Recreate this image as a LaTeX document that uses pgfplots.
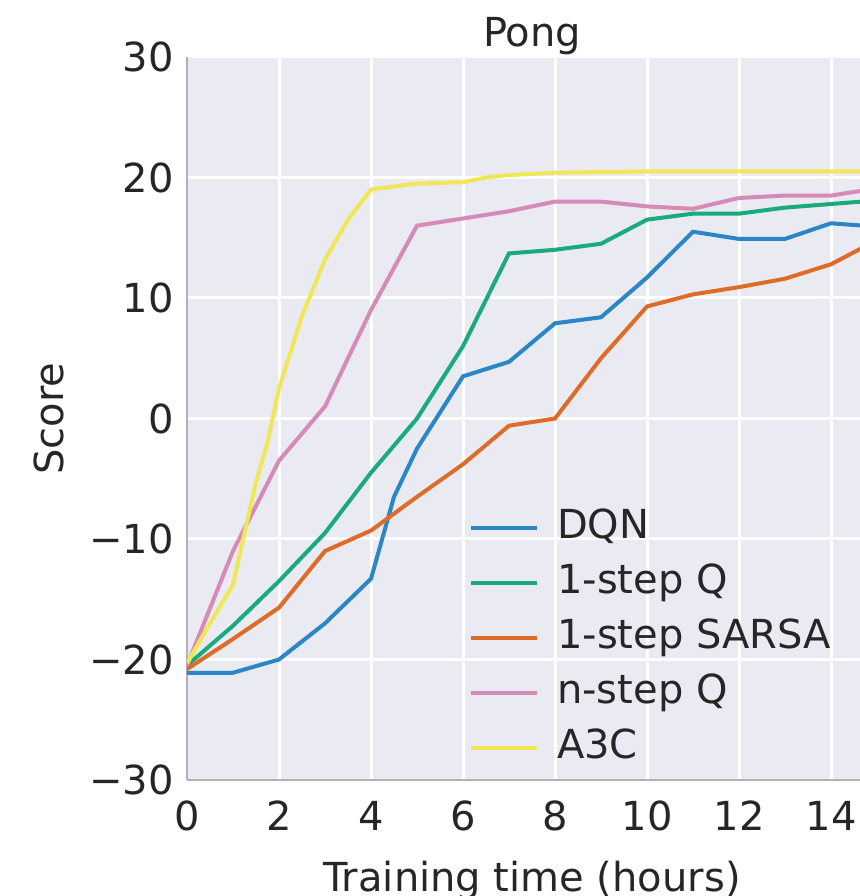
\documentclass[border=0pt]{standalone}
\usepackage{fontspec}
\setmainfont{DejaVu Sans}
\usepackage{pgfplots}
\pgfplotsset{compat=1.18}
\definecolor{bgcol}{HTML}{EAEAF2}
\definecolor{cbblue}{HTML}{2A86C4}
\definecolor{cbgreen}{HTML}{1AAA80}
\definecolor{cborange}{HTML}{DE6C28}
\definecolor{cbpink}{HTML}{D58AB7}
\definecolor{cbyellow}{HTML}{F1E656}
\definecolor{txt}{HTML}{262626}

\begin{document}
\begin{tikzpicture}[font=\fontsize{12}{14}\selectfont, text=txt]
\begin{axis}[
  name=ax,
  scale only axis,
  width=207pt, height=216.9pt,
  xmin=0, xmax=15, ymin=-30, ymax=30,
  axis background/.style={fill=bgcol},
  axis x line*=bottom, axis y line*=left,
  axis line style={gray!60, line width=0.7pt, -},
  grid=major,
  major grid style={white, line width=0.9pt},
  major tick length=0pt,
  xtick={0,2,4,6,8,10,12,14},
  xticklabels={0,2,4,6,8,10,12,14},
  ytick={-30,-20,-10,0,10,20,30},
  yticklabels={−30,−20,−10,0,10,20,30},
  xticklabel style={anchor=base, yshift=-15pt},
  yticklabel style={anchor=east, xshift=-0.5pt},
  title={Pong},
  title style={at={(0.5,1)}, anchor=base, yshift=-3pt},
  xlabel={Training time (hours)},
  xlabel style={at={(axis description cs:0.5,0)}, anchor=base, yshift=-33.4pt},
  ylabel={Score},
  ylabel style={at={(axis description cs:-0.2,0.5)}, anchor=center},
  every axis plot/.append style={line width=1.2pt},
  legend image code/.code={\draw[#1] (0pt,0pt) -- (20pt,0pt);},
  legend cell align=left,
  legend style={draw=none, fill=none, inner sep=0pt,
    at={(axis description cs:0.407,0.375)}, anchor=north west,
    nodes={inner sep=0pt, text height=8.8pt, text depth=2.4pt},
    column sep=5.4pt, row sep=5.3pt},
]
% DQN
\addplot[cbblue] coordinates {
(0,-21.1) (1,-21.1) (2,-20) (3,-17) (4,-13.3) (4.5,-6.5) (5,-2.5) (6,3.5)
(7,4.7) (8,7.9) (9,8.4) (10,11.7) (11,15.5) (12,14.9) (13,14.9) (14,16.2)
(14.7,16) (15,16)
};
% 1-step Q
\addplot[cbgreen] coordinates {
(0,-20.5) (1,-17.2) (2,-13.5) (3,-9.5) (4,-4.5) (5,0) (6,6) (7,13.7)
(8,14) (9,14.5) (10,16.5) (11,17) (12,17) (13,17.5) (14,17.8) (15,18.1)
};
% 1-step SARSA
\addplot[cborange] coordinates {
(0,-20.8) (1,-18.3) (2,-15.7) (3,-11) (4,-9.3) (5,-6.5) (6,-3.8) (7,-0.6)
(8,0) (9,5) (10,9.3) (11,10.3) (12,10.9) (13,11.6) (14,12.8) (14.7,14.2) (15,14.8)
};
% n-step Q
\addplot[cbpink] coordinates {
(0,-20.5) (1,-11) (2,-3.5) (3,1) (4,9) (5,16) (6,16.6) (7,17.2)
(8,18) (9,18) (10,17.6) (11,17.4) (12,18.3) (13,18.5) (14,18.5) (15,19.1)
};
% A3C
\addplot[cbyellow] coordinates {
(0,-20.3) (0.5,-17) (1,-13.8) (1.25,-9.5) (1.5,-5.3) (1.75,-2) (2,2.5)
(2.25,5.5) (2.5,8.5) (3,13.2) (3.5,16.5) (4,19) (5,19.5) (6,19.6)
(6.5,20) (7,20.2) (8,20.4) (10,20.5) (15,20.5)
};
\legend{DQN,1-step Q,1-step SARSA,n-step Q,A3C}
\end{axis}
\pgfresetboundingbox
\path ([xshift=-56.1pt,yshift=-34.8pt]ax.south west) rectangle ([xshift=-5.1pt,yshift=17.1pt]ax.north east);
\end{tikzpicture}
\end{document}
